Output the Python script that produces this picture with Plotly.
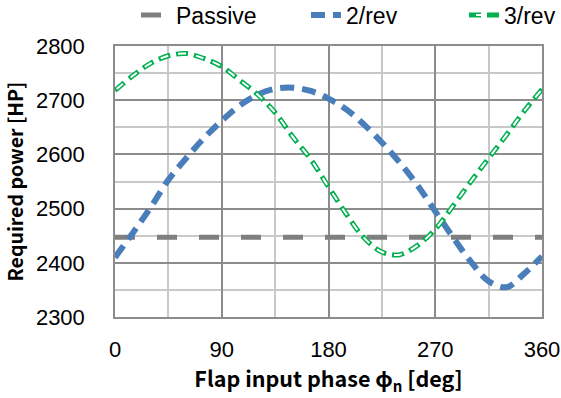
import plotly.graph_objects as go

phase = [0, 15, 30, 45, 60, 75, 90, 105, 120, 135, 150, 165, 180, 195, 210, 225, 240, 255, 270, 285, 300, 315, 330, 345, 360]
passive = [2447] * len(phase)
rev2 = [2410, 2455, 2502, 2553, 2593, 2630, 2662, 2690, 2710, 2721, 2723, 2717, 2703, 2683, 2655, 2622, 2585, 2543, 2495, 2447, 2402, 2366, 2355, 2380, 2412]
rev3 = [2718, 2745, 2768, 2782, 2786, 2777, 2762, 2737, 2711, 2677, 2632, 2591, 2540, 2490, 2446, 2420, 2415, 2432, 2462, 2505, 2550, 2593, 2636, 2680, 2720]
names = ["Passive", "2/rev", "3/rev"]

TICKFONT = "Liberation Sans, Arial, sans-serif"
TITLEFONT = "Noto Sans CJK JP, Noto Sans, sans-serif"

# plot area in pixels
L, R, T, B = 115, 19, 46, 81
W, H = 561, 398
PW, PH = W - L - R, H - T - B


def px2x(px):
    return (px - L) / PW


LEG_Y = 1 + (T - 15) / PH

fig = go.Figure()
fig.add_trace(go.Scatter(x=phase, y=passive, mode="lines", name=names[0], legend="legend",
                         line=dict(color="#7F7F7F", width=5, dash="20px,22px")))
fig.add_trace(go.Scatter(x=phase, y=rev2, mode="lines", name=names[1], line_shape="spline",
                         legend="legend2",
                         line=dict(color="#4A7EBB", width=6, dash="14px,8px")))
fig.add_trace(go.Scatter(x=phase, y=rev3, mode="lines", name=names[2], line_shape="spline",
                         legend="legend3",
                         line=dict(color="#00B050", width=5, dash="12px,6px")))
fig.add_trace(go.Scatter(x=phase, y=rev3, mode="lines", name=" ", hoverinfo="skip",
                         line_shape="spline", legend="legend4",
                         line=dict(color="white", width=2, dash="0.01px,1.99px,8px,8px")))

leg_common = dict(orientation="h", yanchor="middle", y=LEG_Y, xanchor="left",
                  font=dict(size=23, family=TICKFONT, color="black"),
                  bgcolor="rgba(0,0,0,0)", itemwidth=30)

fig.update_layout(
    width=W, height=H,
    margin=dict(l=L, r=R, t=T, b=B, autoexpand=False),
    paper_bgcolor="white", plot_bgcolor="white",
    font=dict(family=TICKFONT, size=22, color="black"),
    showlegend=True,
    legend=dict(leg_common, x=px2x(177 - 41)),
    legend2=dict(leg_common, x=px2x(347 - 41)),
    legend3=dict(leg_common, x=px2x(561), xanchor="right"),
    legend4=dict(leg_common, x=px2x(451)),
)
fig.update_xaxes(
    range=[0, 360], tickvals=[0, 90, 180, 270, 360],
    showgrid=True, gridcolor="#8C8C8C", gridwidth=1.5,
    minor=dict(dtick=45, tick0=0, showgrid=True, gridcolor="#C8C8C8", gridwidth=1.5),
    showline=True, linecolor="#8C8C8C", linewidth=1.5, mirror=True,
    ticks="", ticklabelstandoff=12, zeroline=False,
    tickfont=dict(size=22, family=TICKFONT),
    title=dict(text="<b>Flap input phase ϕ<sub>n</sub> [deg]</b>", font=dict(size=21.5, family=TITLEFONT), standoff=2),
)
fig.update_yaxes(
    range=[2300, 2800], tickvals=[2300, 2400, 2500, 2600, 2700, 2800],
    showgrid=True, gridcolor="#8C8C8C", gridwidth=1.5,
    minor=dict(dtick=50, tick0=2300, showgrid=True, gridcolor="#C8C8C8", gridwidth=1.5),
    showline=True, linecolor="#8C8C8C", linewidth=1.5, mirror=True,
    ticks="", ticklabelstandoff=24, zeroline=False,
    tickfont=dict(size=22, family=TICKFONT),
    title=dict(text="<b>Required power [HP]</b>", font=dict(size=19.5, family=TITLEFONT), standoff=8),
)

fig.write_html("out.html")
